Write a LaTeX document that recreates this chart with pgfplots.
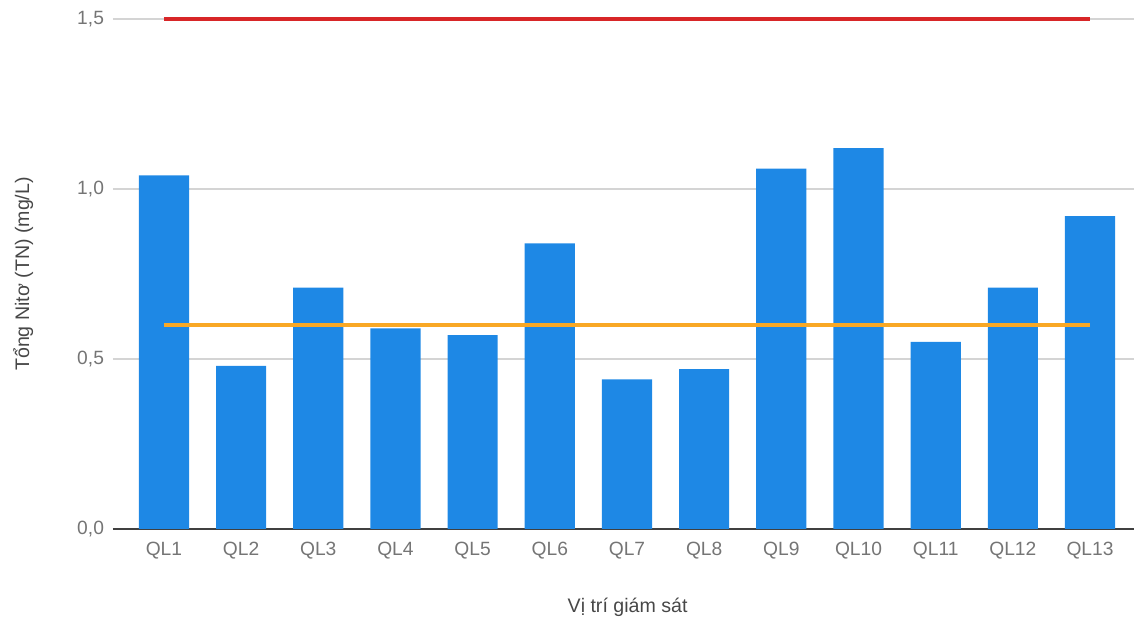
\documentclass[border=0pt]{standalone}
\usepackage{fontspec}
\setmainfont{Liberation Sans}
\usepackage{pgfplots}
\pgfplotsset{compat=1.18}
\definecolor{barblue}{RGB}{30,136,229}
\definecolor{limorange}{RGB}{249,168,37}
\definecolor{limred}{RGB}{216,38,40}
\definecolor{ticktext}{RGB}{117,117,117}
\definecolor{gridgray}{RGB}{212,212,212}
\begin{document}
\begin{tikzpicture}
\useasboundingbox (-56.5pt,-47.5pt) rectangle (510.5pt,264.5pt);
\begin{axis}[
  at={(0,0)}, anchor=south west,
  scale only axis, width=510.5pt, height=255pt,
  xmin=-0.66, xmax=12.57,
  ymin=0, ymax=1.5,
  ytick={0,0.5,1,1.5},
  xtick={0,...,12},
  xticklabels={QL1,QL2,QL3,QL4,QL5,QL6,QL7,QL8,QL9,QL10,QL11,QL12,QL13},
  major tick length=0,
  axis x line*=bottom,
  axis y line*=left,
  x axis line style={draw=black!75, line width=0.8pt, -},
  y axis line style={draw=none},
  ymajorgrids,
  grid style={gridgray, line width=0.6pt},
  tick label style={font=\fontsize{9.6}{11}\selectfont, text=ticktext},
  yticklabel style={xshift=-1pt},
  xticklabel style={yshift=-3pt},
  /pgf/number format/.cd, use comma, fixed, fixed zerofill, precision=1, assume math mode=true,
  /pgfplots/.cd,
  ylabel={Tổng Nitơ (TN) (mg/L)},
  xlabel={Vị trí giám sát},
  label style={font=\fontsize{9.8}{11}\selectfont, text=black!72},
  ylabel style={at={(axis description cs:-0.088,0.5)}, anchor=center},
  xlabel style={at={(axis description cs:0.504,-0.153)}, anchor=center},
  clip=false,
]
\addplot[ybar, bar width=0.65, fill=barblue, draw=none] coordinates {
  (0,1.04) (1,0.48) (2,0.71) (3,0.59) (4,0.57) (5,0.84) (6,0.44)
  (7,0.47) (8,1.06) (9,1.12) (10,0.55) (11,0.71) (12,0.92)
};
\addplot[limorange, line width=1.7pt] coordinates {(0,0.6) (12,0.6)};
\addplot[limred, line width=1.6pt] coordinates {(0,1.5) (12,1.5)};
\end{axis}
\end{tikzpicture}
\end{document}
